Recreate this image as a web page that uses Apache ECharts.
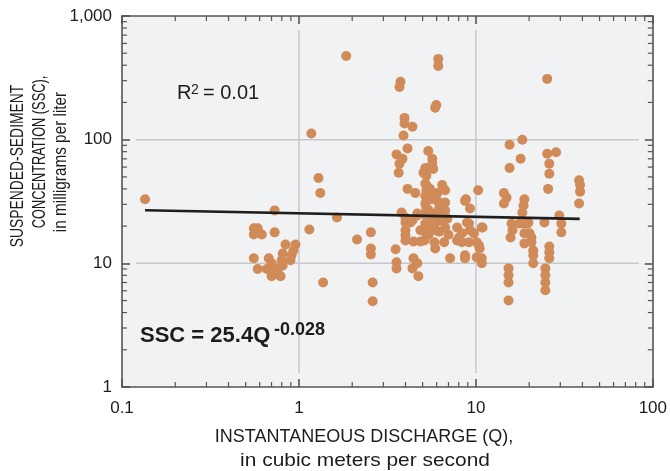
<!DOCTYPE html>
<html>
<head>
<meta charset="utf-8">
<script src="https://cdn.jsdelivr.net/npm/echarts@6/dist/echarts.min.js"></script>
<style>
  html, body { margin: 0; padding: 0; background: #fff; }
  #chart { width: 670px; height: 471px; }
</style>
</head>
<body>
<div id="chart"></div>
<script>
// measured samples: [discharge Q (m3/s), SSC (mg/L)]
const samples = [
  [0.135, 33],
  [0.729, 26.8], [1.175, 112], [1.29, 49], [1.32, 37], [1.85, 475], [1.64, 23.5],
  [0.556, 19.2], [0.585, 19.2], [0.556, 17.1], [0.617, 17.1], [0.729, 17.8], [1.145, 18.8],
  [0.84, 14.2], [0.956, 14.2], [0.931, 12.7], [0.908, 11.6], [0.896, 10.6], [0.809, 12.0],
  [0.798, 10.6], [0.809, 9.6], [0.556, 11.0], [0.585, 9.0], [0.658, 9.0], [0.675, 11.0],
  [0.701, 10.0], [0.738, 9.1], [0.701, 7.85], [0.788, 7.85], [0.758, 8.8], [1.37, 7.0],
  [2.13, 15.6], [2.55, 17.8], [2.55, 13.2], [2.55, 11.8], [2.61, 7.0], [2.61, 4.94],
  // 3 - 7 m3/s, upper
  [6.13, 450], [6.13, 395], [3.75, 294], [3.70, 267], [5.97, 191], [5.89, 181],
  [3.95, 150], [3.95, 135], [4.38, 127], [3.90, 108],
  [5.38, 81], [5.67, 70], [5.67, 64], [5.74, 58], [5.18, 59], [5.05, 54], [5.25, 51],
  [4.11, 85], [3.56, 76], [3.85, 70], [3.70, 64], [3.66, 54], [4.11, 40], [4.55, 37],
  [5.25, 43], [5.25, 39], [5.18, 35], [6.45, 43], [6.70, 39], [6.05, 37], [5.82, 35],
  // 3 - 7 m3/s, lower
  [3.80, 25.8], [4.00, 23.5], [4.00, 21.4], [4.00, 18.5], [4.00, 16.8], [4.00, 15.3],
  [4.44, 15.0], [4.86, 15.0], [4.86, 18.5], [4.38, 22.2], [4.67, 25.3], [3.52, 13.0],
  [3.56, 10.2], [3.56, 9.1], [4.44, 11.0], [4.38, 9.1], [4.67, 10.0], [4.73, 7.85],
  [4.27, 21.4], [4.67, 24.4],
  [5.18, 44], [5.18, 30.5], [5.25, 28], [5.11, 25], [5.38, 23], [5.18, 21], [5.52, 19.5],
  [5.25, 17.5], [5.11, 15.3],
  [5.5, 40], [5.6, 33], [5.4, 27], [5.6, 24], [5.7, 22], [6.3, 24], [6.5, 28],
  [6.2, 18], [5.4, 17], [6.9, 23], [7.0, 17],
  [6.05, 32], [6.21, 28.3], [6.70, 31], [6.70, 26.8], [5.89, 25.3], [6.45, 22.2],
  [5.89, 21.0], [6.70, 19.5], [5.89, 18.5], [5.82, 14.8], [5.89, 13.2], [6.62, 14.8],
  [7.15, 11.0],
  // 7 - 11 m3/s
  [8.68, 32], [9.26, 27.8], [7.83, 19.5], [8.35, 17.5], [9.14, 21.0], [9.26, 18.5],
  [10.8, 19.5], [7.83, 15.3], [8.35, 14.8], [9.14, 14.8], [10.1, 14.8], [10.4, 14.0],
  [8.68, 11.6], [8.68, 11.0], [10.1, 11.2], [10.8, 11.0], [10.8, 10.0], [10.5, 13.2],
  [8.03, 16.2], [9.75, 17.5], [10.9, 19.5], [8.91, 21.4], [10.3, 39], [8.79, 33],
  // 14 - 40 m3/s
  [25.3, 310], [18.3, 100], [15.5, 91], [17.9, 70], [15.5, 59], [25.3, 77], [28.4, 79],
  [26.0, 64], [26.0, 53], [25.6, 40], [38.3, 47], [38.8, 43], [38.8, 38],
  [14.4, 37], [14.9, 34], [18.8, 33],
  [14.4, 30.5], [18.6, 29.4], [18.3, 25.8], [38.3, 30.5],
  [15.9, 21.0], [16.1, 18.5], [15.7, 16.2], [18.6, 21.0], [18.8, 17.5], [18.8, 14.5],
  [19.6, 21.0], [20.6, 16.2], [20.6, 14.8], [21.1, 12.7], [21.1, 11.6], [21.1, 10.0],
  [24.4, 21.4], [29.6, 24.4], [30.4, 21.0], [30.4, 17.8], [26.0, 13.7], [26.0, 12.3],
  [26.0, 11.0], [24.7, 9.1], [24.7, 8.0], [24.7, 7.0], [24.7, 6.05],
  [15.3, 9.1], [15.3, 8.0], [15.3, 7.0], [15.3, 5.0],
  [17.6, 21.0], [20.1, 17.5], [19.8, 21.4]
];

// regression SSC = 25.4 Q^-0.028, endpoints
const fitLine = [[0.135, 26.9], [38.6, 22.9]];

const xTickValues = [0.1, 1, 10, 100];
const xTickLabels = ['0.1', '1', '10', '100'];
const yTickValues = [1, 10, 100, 1000];
const yTickLabels = ['1', '10', '100', '1,000'];
const xMinor = [0.2, 0.3, 0.4, 0.5, 0.6, 0.7, 0.8, 0.9, 2, 3, 4, 5, 6, 7, 8, 9, 20, 30, 40, 50, 60, 70, 80, 90];
const yMinor = [2, 3, 4, 5, 6, 7, 8, 9, 20, 30, 40, 50, 60, 70, 80, 90, 200, 300, 400, 500, 600, 700, 800, 900];
const xGrid = [1, 10];
const yGrid = [10, 100];

const FONT = "'Liberation Sans', Arial, sans-serif";
const AXIS_COLOR = '#555';
const TEXT_COLOR = '#1c1c1c';

function pickLabel(values, labels) {
  return v => {
    for (let i = 0; i < values.length; i++) {
      if (Math.abs(Math.log10(v) - Math.log10(values[i])) < 1e-6) return labels[i];
    }
    return '';
  };
}

const chart = echarts.init(document.getElementById('chart'), null, { renderer: 'canvas' });

function logAxis(min, max, position, showLabel, fmt, margin) {
  return {
    type: 'log', logBase: 10, min: min, max: max, position: position,
    axisLine: { show: true, lineStyle: { color: AXIS_COLOR, width: 1.6 } },
    axisTick: { show: true, inside: true, length: 8, lineStyle: { color: AXIS_COLOR, width: 1.6 } },
    axisLabel: { show: showLabel, formatter: fmt, color: TEXT_COLOR, fontFamily: FONT, fontSize: 17, margin: margin || 10 },
    splitLine: { show: false },
    minorTick: { show: false }
  };
}

const tickStyle = { stroke: AXIS_COLOR, lineWidth: 1.2 };
const gridStyle = { stroke: '#c6c8cc', lineWidth: 1.5 };

function textEl(text, size, opts) {
  opts = opts || {};
  return {
    type: 'text', z: 10,
    scaleX: opts.scaleX || 1,
    style: {
      text: text, fill: TEXT_COLOR,
      font: (opts.bold ? 'bold ' : '') + size + 'px ' + FONT,
      textAlign: opts.align || 'center',
      textVerticalAlign: opts.valign || 'middle'
    }
  };
}

function label(text, x, y, size, opts) {
  const el = textEl(text, size, opts);
  el.x = x; el.y = y;
  return el;
}

// rotated label: the group turns, the text inside is narrowed along its own run
function vlabel(text, x, y, size, squeeze) {
  return { type: 'group', x: x, y: y, rotation: Math.PI / 2, children: [textEl(text, size, { scaleX: squeeze })] };
}

const option = {
  animation: false,
  backgroundColor: '#fff',
  grid: { left: 122, right: 13, top: 16, bottom: 84, show: true, backgroundColor: '#f1f2f4', borderWidth: 0 },
  xAxis: [
    logAxis(0.1, 100, 'bottom', true, pickLabel(xTickValues, xTickLabels), 13),
    logAxis(0.1, 100, 'top', false)
  ],
  yAxis: [
    logAxis(1, 1000, 'left', true, pickLabel(yTickValues, yTickLabels), 10),
    logAxis(1, 1000, 'right', false)
  ],
  series: [
    {
      // grid lines
      type: 'custom', silent: true, z: 1,
      data: xGrid.map(v => [v, 10]),
      renderItem: (params, api) => {
        const cs = params.coordSys;
        const x = api.coord([api.value(0), 10])[0];
        return { type: 'line', shape: { x1: x, y1: cs.y + 14, x2: x, y2: cs.y + cs.height - 14 }, style: gridStyle };
      }
    },
    {
      type: 'custom', silent: true, z: 1,
      data: yGrid.map(v => [1, v]),
      renderItem: (params, api) => {
        const cs = params.coordSys;
        const y = api.coord([1, api.value(1)])[1];
        return { type: 'line', shape: { x1: cs.x + 14, y1: y, x2: cs.x + cs.width - 14, y2: y }, style: gridStyle };
      }
    },
    {
      name: 'SSC', type: 'scatter', z: 3,
      data: samples,
      symbol: 'circle', symbolSize: 10,
      itemStyle: { color: '#d08b59', opacity: 1 }
    },
    {
      name: 'fit', type: 'line', z: 4,
      data: fitLine, showSymbol: false, symbol: 'none',
      lineStyle: { color: '#1e1e1e', width: 2.6 }
    },
    {
      // minor ticks, x
      type: 'custom', silent: true, z: 5,
      data: xMinor.map(v => [v, 1]),
      renderItem: (params, api) => {
        const cs = params.coordSys;
        const x = api.coord([api.value(0), 1])[0];
        return { type: 'group', children: [
          { type: 'line', shape: { x1: x, y1: cs.y + cs.height, x2: x, y2: cs.y + cs.height - 5 }, style: tickStyle },
          { type: 'line', shape: { x1: x, y1: cs.y, x2: x, y2: cs.y + 5 }, style: tickStyle }
        ] };
      }
    },
    {
      // minor ticks, y
      type: 'custom', silent: true, z: 5,
      data: yMinor.map(v => [1, v]),
      renderItem: (params, api) => {
        const cs = params.coordSys;
        const y = api.coord([1, api.value(1)])[1];
        return { type: 'group', children: [
          { type: 'line', shape: { x1: cs.x, y1: y, x2: cs.x + 5, y2: y }, style: tickStyle },
          { type: 'line', shape: { x1: cs.x + cs.width, y1: y, x2: cs.x + cs.width - 5, y2: y }, style: tickStyle }
        ] };
      }
    }
  ],
  graphic: [
    // y axis title
    vlabel('SUSPENDED-SEDIMENT', 18, 166, 18, 0.77),
    vlabel('CONCENTRATION (SSC),', 40, 152, 18, 0.71),
    vlabel('in milligrams per liter', 61, 162, 18, 0.85),
    // x axis title
    label('INSTANTANEOUS DISCHARGE (Q),', 364, 437, 18),
    label('in cubic meters per second', 365, 461, 19, { scaleX: 1.1 }),
    // R squared
    label('R', 177, 103, 20, { align: 'left', valign: 'bottom' }),
    label('2', 191, 83, 14, { align: 'left', valign: 'top' }),
    label('= 0.01', 203, 103, 20, { align: 'left', valign: 'bottom' }),
    // regression equation
    label('SSC = 25.4Q', 140, 347, 22, { align: 'left', valign: 'bottom', bold: true }),
    label('-0.028', 274, 321, 18, { align: 'left', valign: 'top', bold: true })
  ]
};

chart.setOption(option);
</script>
</body>
</html>
